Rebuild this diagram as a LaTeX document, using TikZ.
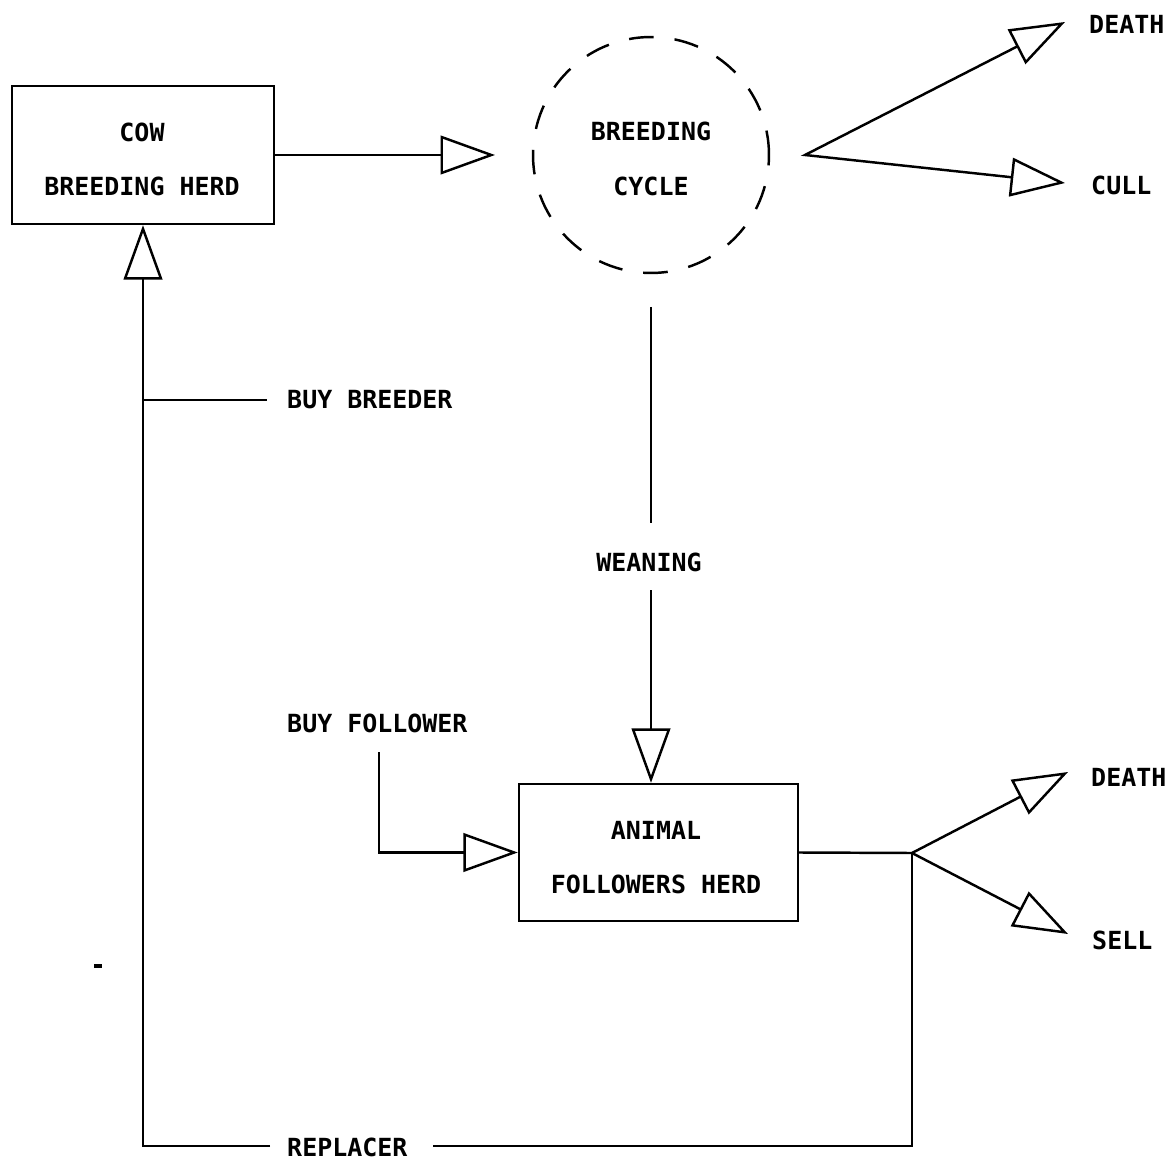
\documentclass[tikz,border=0pt]{standalone}
\usepackage{fontspec}
\newfontfamily\plotfont{DejaVu Sans Mono}
\usetikzlibrary{arrows.meta}
\begin{document}
\begin{tikzpicture}[x=0.02cm,y=-0.02cm,line width=1.4pt,
  tipo/.tip={Triangle[open,length=31pt,width=22pt]},
  flow/.style={-tipo},
  txt/.style={font=\plotfont\bfseries\fontsize{14.2pt}{31pt}\selectfont,inner sep=0pt},
  lbl/.style={txt,anchor=base west},
  blk/.style={draw,rectangle,inner sep=0pt}]
\useasboundingbox (0,0) rectangle (1174,1162);

% main blocks
\node[blk,minimum width=5.24cm,minimum height=2.76cm] (cow) at (143,155) {};
\node[txt,align=center] (cowt) at (142,159.5) {COW\\BREEDING HERD};
\node[draw,circle,dash pattern=on 14pt off 12pt,minimum size=4.72cm,inner sep=0pt] (cyc) at (651,155) {};
\node[txt,align=center] (cyct) at (651,159) {BREEDING\\CYCLE};
\node[blk,minimum width=5.58cm,minimum height=2.74cm] (herd) at (658.5,852.5) {};
\node[txt,align=center] (herdt) at (656,857.5) {ANIMAL\\FOLLOWERS HERD};

% labels
\node[lbl] (death1) at (1088,34) {DEATH};
\node[lbl] (cull) at (1090,195) {CULL};
\node[lbl] (death2) at (1090,786) {DEATH};
\node[lbl] (sell) at (1091,949) {SELL};
\node[lbl] (buyb) at (286,409) {BUY BREEDER};
\node[lbl] (buyf) at (286,732) {BUY FOLLOWER};
\node[lbl] (repl) at (286,1156) {REPLACER};
\node[txt] (wean) at (649,562) {WEANING};

% coordinates
\coordinate (t1) at (495,155);
\coordinate (tipD1) at (1065,22);
\coordinate (tipC) at (1065,183);
\coordinate (fanA) at (805,155);
\coordinate (wa) at (651,307);
\coordinate (wb) at (651,523);
\coordinate (wc) at (651,590);
\coordinate (bf) at (379,752);
\coordinate (jn) at (912,853);
\coordinate (tipD2) at (1068,772);
\coordinate (tipS) at (1068,934);
\coordinate (ra) at (433,1146);
\coordinate (rb) at (270,1146);
\coordinate (bba) at (143,400);
\coordinate (bbb) at (267,400);

% connectors
\draw[flow] (cow.east) -- (t1);
\draw[tipo-tipo,line join=miter] (tipD1) -- (fanA) -- (tipC);
\draw (wa) -- (wb);
\draw[flow] (wc) -- (wc |- herd.north);
\draw[flow] (bf) |- (herd.west);
\draw (herd.east) -- (jn);
\draw[flow] (jn) -- (tipD2);
\draw[flow] (jn) -- (tipS);
\draw (jn) |- (ra);
\draw[flow] (rb) -| (cow.south);
\draw (bba) -- (bbb);
\draw[line width=2pt] (94,966) -- (102,966);
\end{tikzpicture}
\end{document}
